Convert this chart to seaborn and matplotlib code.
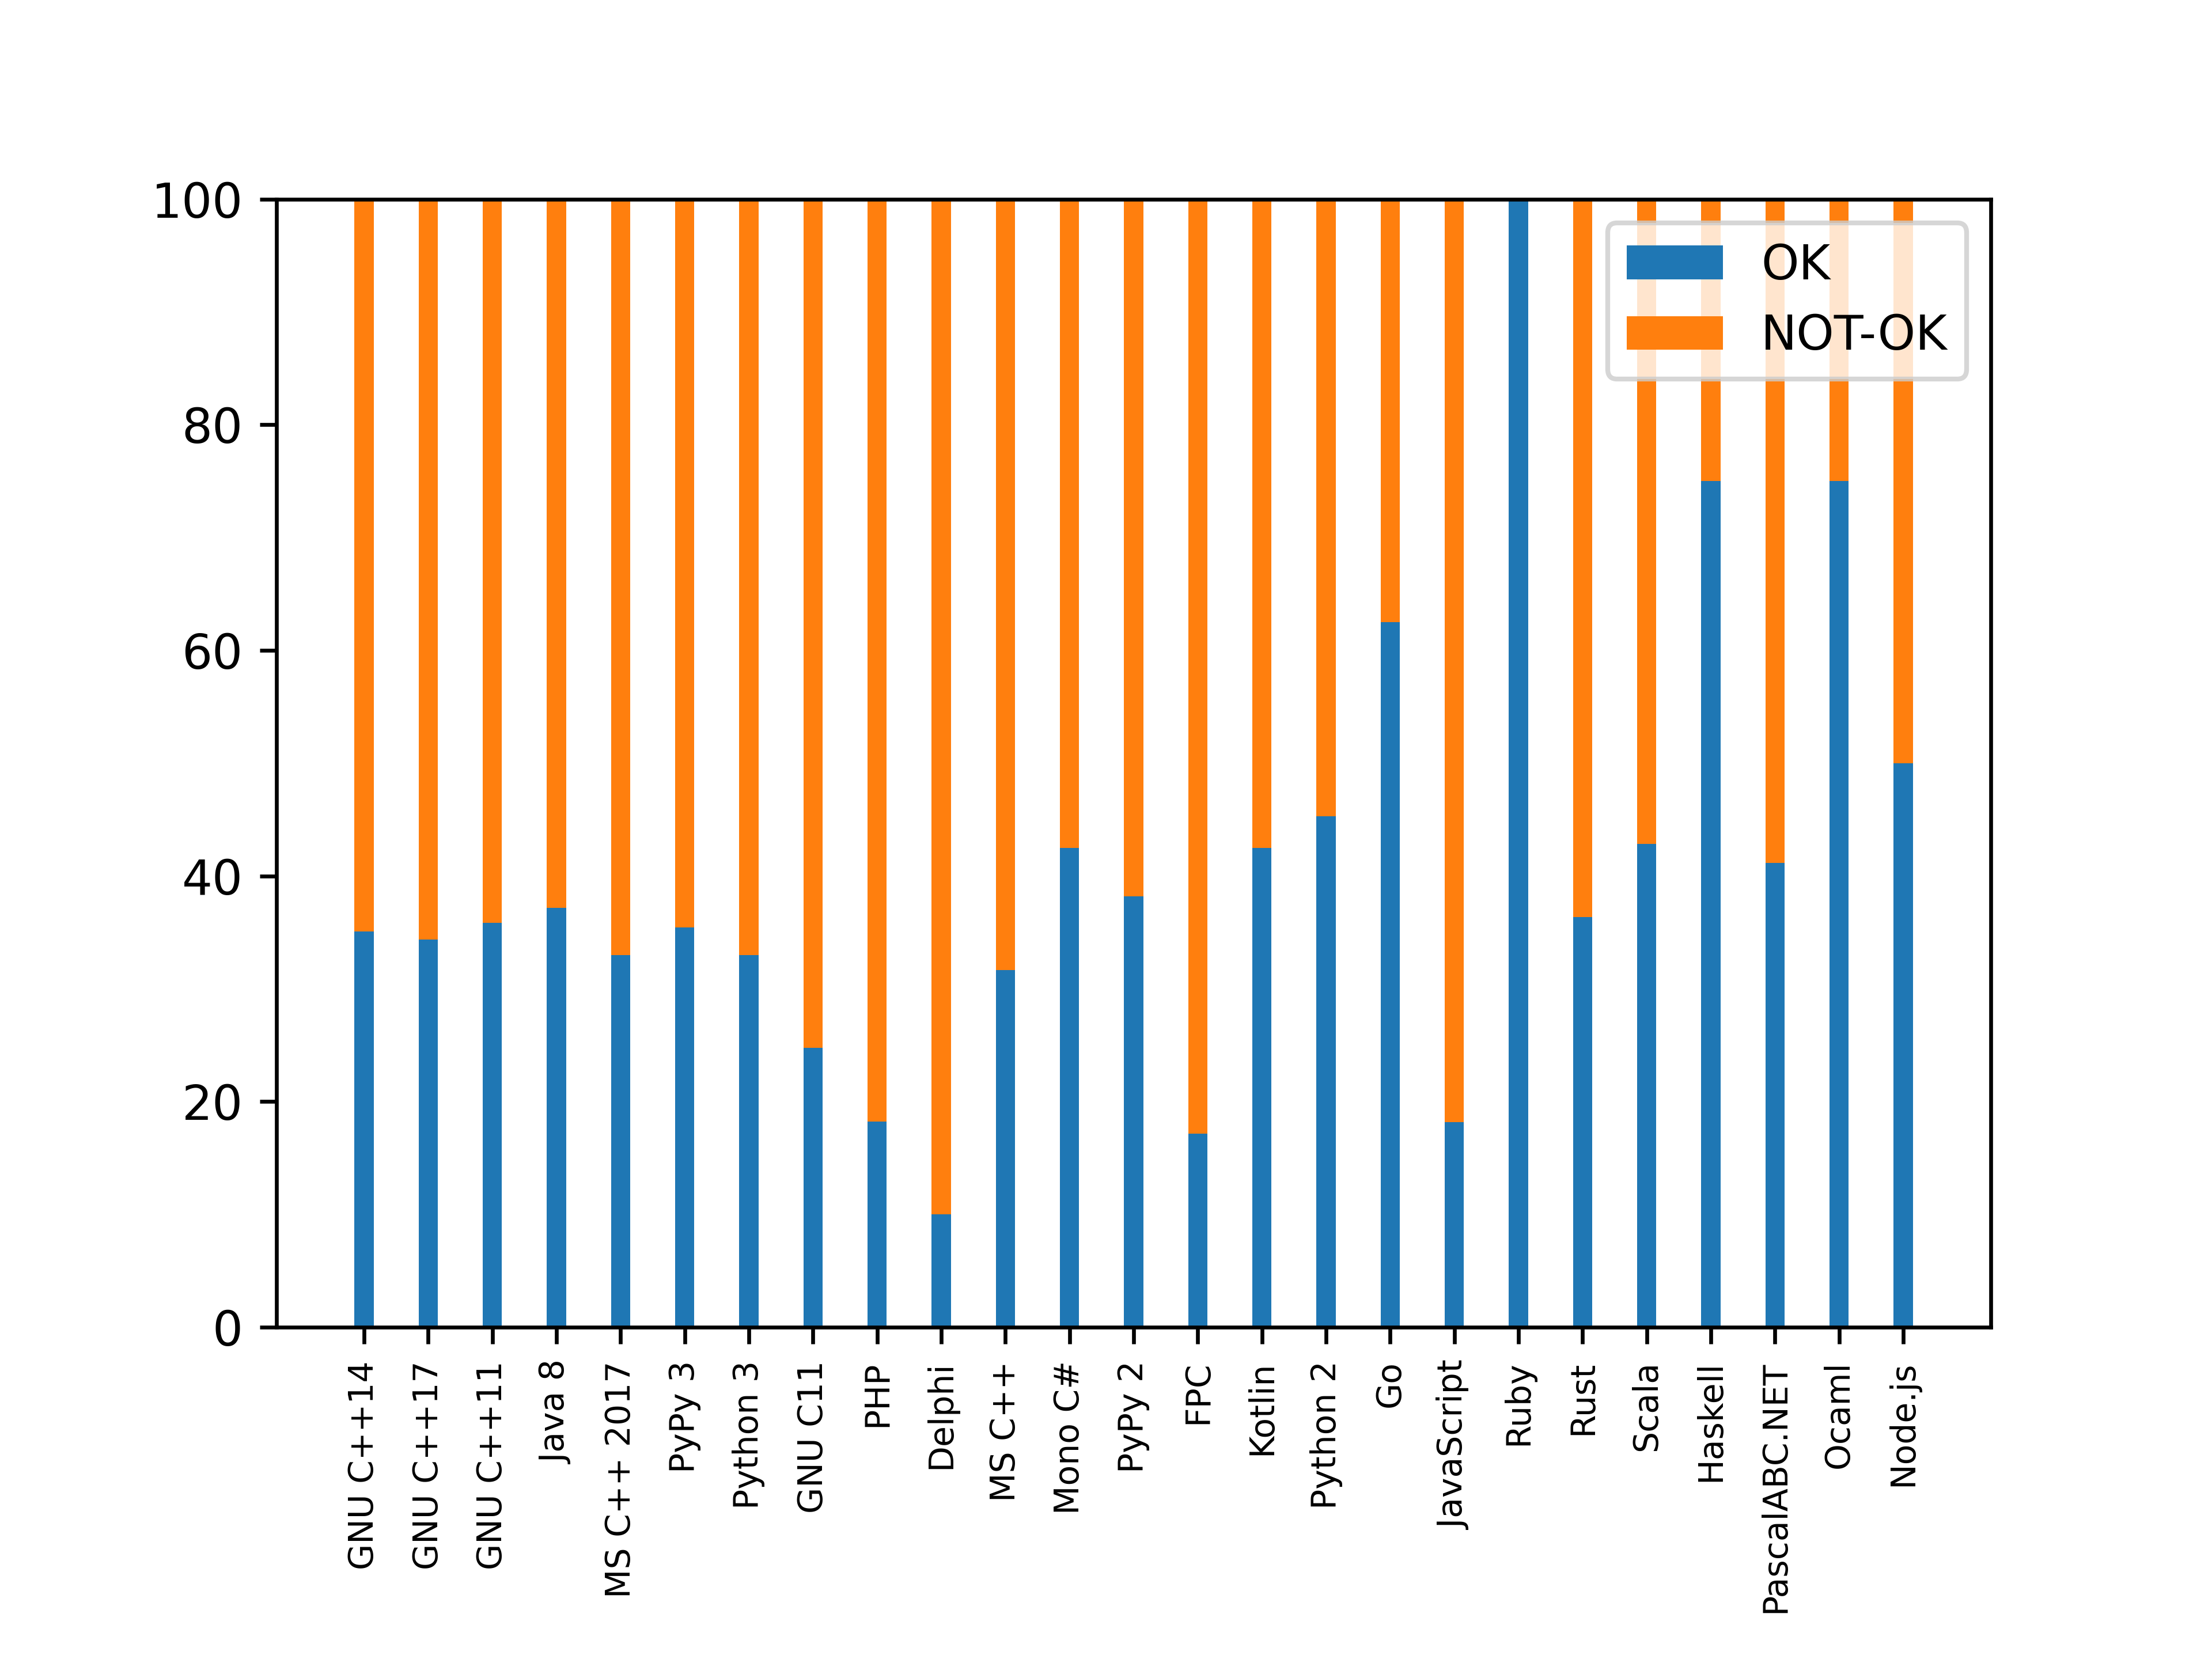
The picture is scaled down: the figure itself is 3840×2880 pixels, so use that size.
import numpy as np
import pandas as pd
import seaborn as sns
import matplotlib
matplotlib.use("Agg")
import matplotlib.pyplot as plt

languages = ['GNU C++14', 'GNU C++17', 'GNU C++11', 'Java 8', 'MS C++ 2017',
             'PyPy 3', 'Python 3', 'GNU C11', 'PHP', 'Delphi', 'MS C++',
             'Mono C#', 'PyPy 2', 'FPC', 'Kotlin', 'Python 2', 'Go',
             'JavaScript', 'Ruby', 'Rust', 'Scala', 'Haskell', 'PascalABC.NET',
             'Ocaml', 'Node.js']

# percentage of OK verdicts per language
ok_pct = [35.09, 34.36, 35.85, 37.17, 32.98, 35.43, 32.98, 24.77, 18.21, 10.0,
          31.66, 42.47, 38.17, 17.15, 42.47, 45.29, 62.5, 18.2, 100.0, 36.38,
          42.83, 75.0, 41.15, 75.0, 50.0]
not_ok_pct = [100 - v for v in ok_pct]

data = pd.DataFrame({'language': languages, 'ok': ok_pct, 'not_ok': not_ok_pct})
data['total'] = data['ok'] + data['not_ok']

bar_w = 0.3

fig, ax = plt.subplots(figsize=(6.4, 4.8))
plt.subplots_adjust(bottom=0.2)

# stacked bars: full height in orange, OK part drawn over it in blue
sns.barplot(x='language', y='total', data=data, color='#ff7f0e', saturation=1,
            width=bar_w, label='NOT-OK', ax=ax)
sns.barplot(x='language', y='ok', data=data, color='#1f77b4', saturation=1,
            width=bar_w, label='OK', ax=ax)

# same padding matplotlib's own margins would give
pad = bar_w / 2 + 0.05 * (len(languages) - 1 + bar_w)
ax.set_ylim(0, 100)
ax.set_xlim(-pad, len(languages) - 1 + pad)
ax.set_xlabel('')
ax.set_ylabel('')
ax.tick_params(axis='x', labelsize=7, labelrotation=90)

handles, labels = ax.get_legend_handles_labels()
ax.legend(handles[::-1], labels[::-1], loc='upper right')

plt.savefig('out.png', dpi=600)
